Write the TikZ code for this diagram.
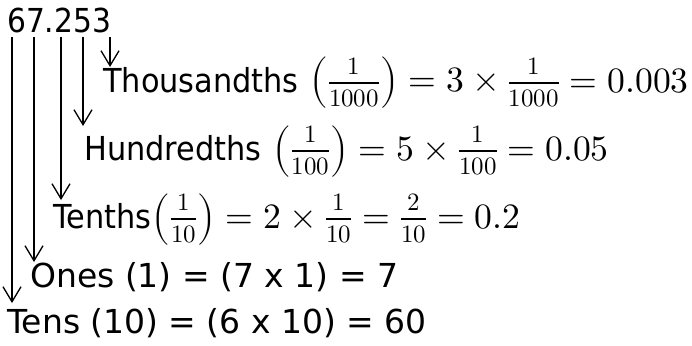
\documentclass[tikz,border=0pt]{standalone}
\usepackage{unicode-math}
\setmainfont{DejaVu Sans}
\newfontfamily\numfont{DejaVu Sans}[FakeStretch=0.9]
\newfontfamily\wordfont{DejaVu Sans}[FakeStretch=0.92]
\setmathfont{Latin Modern Math}[Scale=1.08]
\usetikzlibrary{arrows.meta}
% inline fraction with a heavier bar and wider gaps
\newcommand\gapfrac[2]{\genfrac{}{}{2pt}{1}{\rule[-7pt]{0pt}{7pt}#1}{\rule{0pt}{21pt}#2}}

\begin{document}
\begin{tikzpicture}[x=1pt,y=-1pt,
  every node/.style={font=\fontsize{33}{40}\selectfont, inner sep=0pt, anchor=base west},
  digitarrow/.style={line width=1.3pt, -{Straight Barb[length=15pt,width=18pt,line width=1.3pt]}}]
  \useasboundingbox (0,0) rectangle (692,345);
  % the number and its place values
  \node (num) at (7,33) {\numfont 67.253};
  \node (thou) at (103,92) {{\wordfont Thousandths} $\left(\gapfrac{1}{1000}\right) = 3 \times \gapfrac{1}{1000} = 0.003$};
  \node (hund) at (84,160) {{\wordfont Hundredths} $\left(\gapfrac{1}{100}\right) = 5 \times \gapfrac{1}{100} = 0.05$};
  \node (tenth) at (53,228) {{\wordfont Tenths}$\left(\gapfrac{1}{10}\right) = 2 \times \gapfrac{1}{10} = \gapfrac{2}{10} = 0.2$};
  \node (ones) at (30,287) {Ones (1) = (7 x 1) = 7};
  \node (tens) at (7,333) {Tens (10) = (6 x 10) = 60};
  % arrow ends under each digit
  \coordinate (s6) at (12,37);
  \coordinate (s7) at (34,37);
  \coordinate (s2) at (61,37);
  \coordinate (s5) at (83,37);
  \coordinate (s3) at (110,37);
  \coordinate (e6) at (12,303);
  \coordinate (e7) at (34,262);
  \coordinate (e2) at (61,200);
  \coordinate (e5) at (83,126);
  \coordinate (e3) at (110,67);
  \draw[digitarrow] (s6) -- (e6);
  \draw[digitarrow] (s7) -- (e7);
  \draw[digitarrow] (s2) -- (e2);
  \draw[digitarrow] (s5) -- (e5);
  \draw[digitarrow] (s3) -- (e3);
\end{tikzpicture}
\end{document}
